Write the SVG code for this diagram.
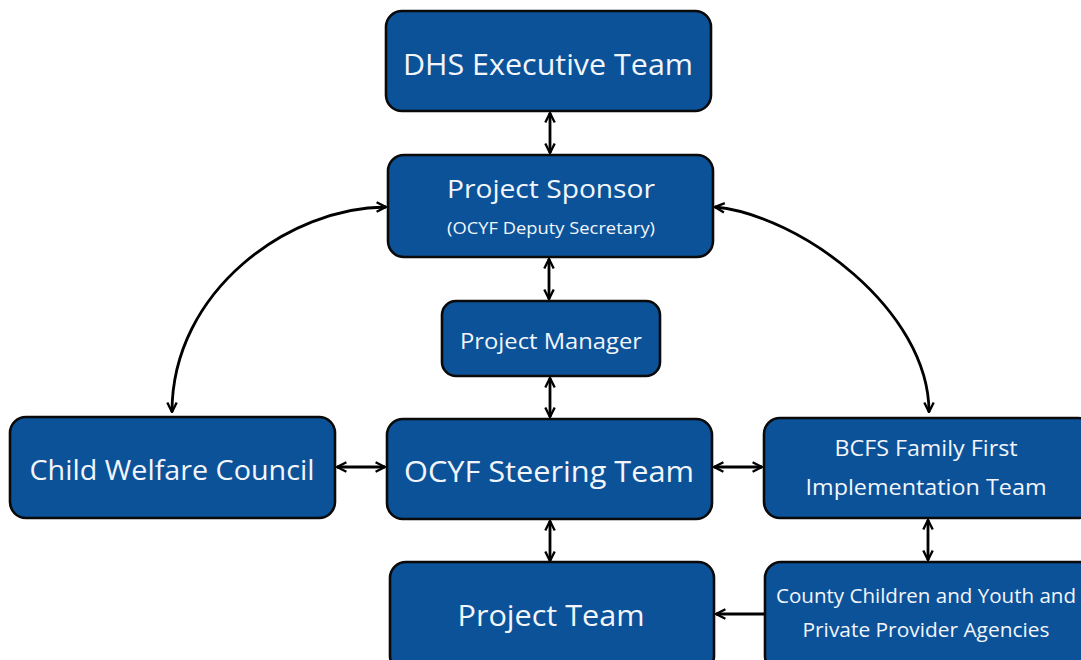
<svg xmlns="http://www.w3.org/2000/svg" width="1081" height="660" viewBox="0 0 1081 660">
<defs>
<style>
.n{fill:#0C5299;stroke:#0a0a0a;stroke-width:2.6}
.t{fill:#F2F6FB;font-family:"Open Sans","Noto Sans",sans-serif;text-anchor:middle}
.c{fill:none;stroke:#000;stroke-width:2.8}
</style>
<marker id="a" viewBox="0 0 10 10" refX="9" refY="5" markerWidth="4.2" markerHeight="4.2" orient="auto-start-reverse" markerUnits="strokeWidth">
<path d="M1,1 L9,5 L1,9" fill="none" stroke="#000" stroke-width="2"/>
</marker>
</defs>
<rect width="1081" height="660" fill="#fff"/>
<g id="connectors">
<line class="c" x1="550" y1="113" x2="550" y2="153" marker-start="url(#a)" marker-end="url(#a)"/>
<line class="c" x1="549" y1="259" x2="549" y2="299" marker-start="url(#a)" marker-end="url(#a)"/>
<line class="c" x1="550" y1="378" x2="550" y2="417" marker-start="url(#a)" marker-end="url(#a)"/>
<line class="c" x1="550" y1="521" x2="550" y2="561" marker-start="url(#a)" marker-end="url(#a)"/>
<line class="c" x1="337" y1="467" x2="385" y2="467" marker-start="url(#a)" marker-end="url(#a)"/>
<line class="c" x1="714" y1="467" x2="762" y2="467" marker-start="url(#a)" marker-end="url(#a)"/>
<line class="c" x1="928" y1="520" x2="928" y2="560" marker-start="url(#a)" marker-end="url(#a)"/>
<line class="c" x1="764" y1="614" x2="716" y2="614" marker-end="url(#a)"/>
<path class="c" d="M386,207 C290,207 172,290 172,412" marker-start="url(#a)" marker-end="url(#a)"/>
<path class="c" d="M715,207 C800,215 929,310 929,412" marker-start="url(#a)" marker-end="url(#a)"/>
</g>
<g id="dhs"><rect class="n" x="386" y="11" width="325" height="100" rx="16"/><text class="t" x="548" y="75" font-size="30" textLength="290" lengthAdjust="spacingAndGlyphs">DHS Executive Team</text></g>
<g id="sponsor"><rect class="n" x="388" y="155" width="325" height="102" rx="16"/><text class="t" x="551" y="198" font-size="25" textLength="208" lengthAdjust="spacingAndGlyphs">Project Sponsor</text><text class="t" x="551" y="234" font-size="15.5" textLength="208" lengthAdjust="spacingAndGlyphs">(OCYF Deputy Secretary)</text></g>
<g id="manager"><rect class="n" x="442" y="301" width="218" height="75" rx="14"/><text class="t" x="551" y="349" font-size="21" textLength="182" lengthAdjust="spacingAndGlyphs">Project Manager</text></g>
<g id="cwc"><rect class="n" x="10" y="417" width="325" height="101" rx="16"/><text class="t" x="172" y="480" font-size="27" textLength="285" lengthAdjust="spacingAndGlyphs">Child Welfare Council</text></g>
<g id="steering"><rect class="n" x="387" y="419" width="325" height="100" rx="16"/><text class="t" x="549" y="482" font-size="29" textLength="290" lengthAdjust="spacingAndGlyphs">OCYF Steering Team</text></g>
<g id="bcfs"><rect class="n" x="764" y="418" width="330" height="100" rx="16"/><text class="t" x="926" y="456" font-size="22" textLength="183" lengthAdjust="spacingAndGlyphs">BCFS Family First</text><text class="t" x="926" y="495" font-size="22" textLength="241" lengthAdjust="spacingAndGlyphs">Implementation Team</text></g>
<g id="projectteam"><rect class="n" x="390" y="562" width="324" height="110" rx="16"/><text class="t" x="551" y="626" font-size="30" textLength="187" lengthAdjust="spacingAndGlyphs">Project Team</text></g>
<g id="county"><rect class="n" x="765" y="562" width="330" height="110" rx="16"/><text class="t" x="926" y="603" font-size="19.5" textLength="300" lengthAdjust="spacingAndGlyphs">County Children and Youth and</text><text class="t" x="926" y="637" font-size="19.5" textLength="247" lengthAdjust="spacingAndGlyphs">Private Provider Agencies</text></g>
</svg>
